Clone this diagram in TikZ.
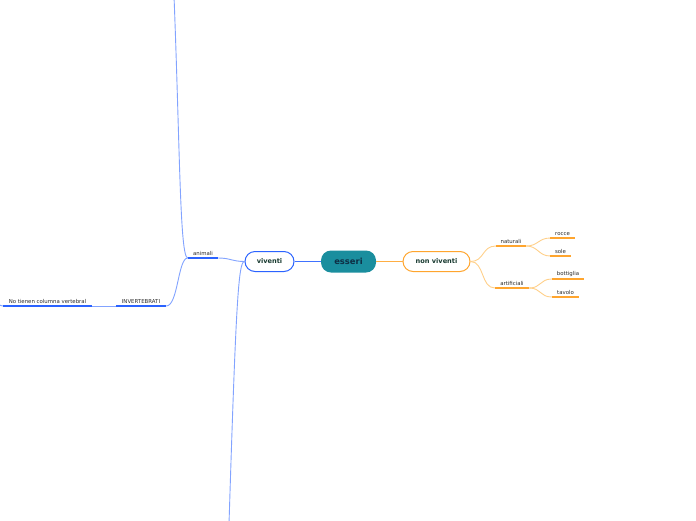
\documentclass[tikz,border=0pt]{standalone}
\usepackage{fontspec}
\setmainfont{DejaVu Sans}
\usetikzlibrary{positioning}
\definecolor{hub}{HTML}{1A8E9E}
\definecolor{hubtext}{HTML}{0E2F45}
\definecolor{nodetext}{HTML}{17392F}
\definecolor{orng}{HTML}{FFA52E}
\definecolor{orngl}{HTML}{FFD08A}
\definecolor{blu}{HTML}{2B63FF}
\definecolor{blul}{HTML}{82A3FF}
\definecolor{ink}{HTML}{2B2B2B}

\begin{document}
\begin{tikzpicture}[x=1pt,y=-1pt,
      root/.style={rounded corners=10pt,fill=hub,text=hubtext,font=\bfseries\fontsize{8.4}{9}\selectfont,
                   minimum width=55,minimum height=22},
      main/.style={rounded corners=10pt,fill=white,line width=1pt,text=nodetext,
                   font=\bfseries\fontsize{6.6}{7}\selectfont,minimum height=20},
      topic/.style={anchor=south,inner xsep=0pt,inner ysep=2.2pt,font=\fontsize{5.4}{6}\selectfont,text=ink},
      ul/.style={line width=1.8pt},
      lk/.style={line width=0.9pt}]
    \useasboundingbox (0,0) rectangle (696,520);
    \clip (0,0) rectangle (696,520);
    \node[root](ess) at (348.5,261.5){esseri};
    \node[main,draw=orng,minimum width=67](nv) at (436.5,261.5){non viventi};
    \node[main,draw=blu,minimum width=49](viv) at (269.5,261.5){viventi};
    \node[topic,minimum width=30](nat) at (511,246){naturali};
    \node[topic,minimum width=34](art) at (512,288){artificiali};
    \node[topic,minimum width=24](roc) at (562.5,238){rocce};
    \node[topic,minimum width=20](sol) at (560.5,256){sole};
    \node[topic,minimum width=32](bot) at (568,279){bottiglia};
    \node[topic,minimum width=27](tav) at (565.5,297){tavolo};
    \node[topic,minimum width=30](ani) at (203,258){animali};
    \node[topic,minimum width=50](inv) at (141,306){INVERTEBRATI};
    \node[topic,minimum width=89](nt) at (47.5,306){No tienen columna vertebral};
    \coordinate (up) at (174,-4);
    \coordinate (down) at (229,524);
    \coordinate (off) at (-4,301);
    \draw[line width=1.2pt,orng!90] (ess.east)--(nv.west);
    \draw[line width=1.2pt,blu!90] (viv.east)--(ess.west);
    \draw[lk,orngl] (nv.east) .. controls +(14,0) and +(-14,0) .. (nat.south west);
    \draw[lk,orngl] (nv.east) .. controls +(14,0) and +(-14,0) .. (art.south west);
    \draw[lk,orngl] (nat.south east) .. controls +(12,0) and +(-12,0) .. (roc.south west);
    \draw[lk,orngl] (nat.south east) .. controls +(12,0) and +(-12,0) .. (sol.south west);
    \draw[lk,orngl] (art.south east) .. controls +(12,0) and +(-12,0) .. (bot.south west);
    \draw[lk,orngl] (art.south east) .. controls +(12,0) and +(-12,0) .. (tav.south west);
    \draw[lk,blul] (viv.west) .. controls +(-12,0) and +(12,0) .. (ani.south east);
    \draw[lk,blul] (viv.west) .. controls +(-6,0) and (236,300) .. (down);
    \draw[lk,blul] (ani.south west) .. controls +(-8,0) and (180,150) .. (up);
    \draw[lk,blul] (ani.south west) .. controls +(-10,0) and +(12,0) .. (inv.south east);
    \draw[lk,blul] (inv.south west)--(nt.south east);
    \draw[lk,blul] (nt.south west) .. controls +(-3,0) and +(1,2) .. (off);
    \foreach \n in {nat,art,roc,sol,bot,tav}
      \draw[ul,orng] (\n.south west)--(\n.south east);
    \foreach \n in {ani,inv,nt}
      \draw[ul,blu] (\n.south west)--(\n.south east);
  \end{tikzpicture}
\end{document}
